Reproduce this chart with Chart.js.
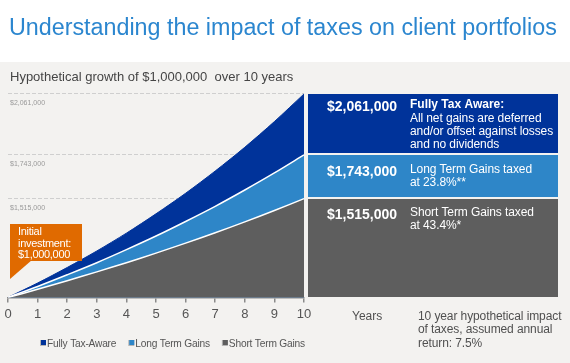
<!DOCTYPE html>
<html lang="en">
<head>
<meta charset="UTF-8">
<title>Understanding the impact of taxes on client portfolios</title>
<script src="https://cdn.jsdelivr.net/npm/chart.js"></script>
<style>
  html, body { margin: 0; padding: 0; background: #f3f2f0; }
  .wrap { width: 570px; height: 363px; position: relative; }
</style>
</head>
<body>
<div class="wrap"><canvas id="taxChart"></canvas></div>
<script>
  // values (growth of $1,000,000 over 10 years)
  const years = ['0', '1', '2', '3', '4', '5', '6', '7', '8', '9', '10'];
  const fullyTaxAware = [1000000, 1075000, 1156000, 1242000, 1335000, 1436000, 1543000, 1659000, 1783000, 1917000, 2061000];
  const longTermGains = [1000000, 1057000, 1118000, 1181000, 1249000, 1320000, 1396000, 1475000, 1560000, 1649000, 1743000];
  const shortTermGains = [1000000, 1042000, 1087000, 1133000, 1181000, 1231000, 1283000, 1337000, 1394000, 1453000, 1515000];
  const gridValues = [2061000, 1743000, 1515000];
  const startValue = 1000000;

  const BLUE = '#00339a', LIGHT = '#2e86c8', GREY = '#5e5e5e', ORANGE = '#e06a00';
  const FONT = '"Liberation Sans", Arial, sans-serif';

  const panelRows = [
    { value: '$2,061,000', color: BLUE, bold: 'Fully Tax Aware:', lines: ['All net gains are deferred', 'and/or offset against losses', 'and no dividends'], vOff: 16.5, tOff: 14 },
    { value: '$1,743,000', color: LIGHT, bold: null, lines: ['Long Term Gains taxed', 'at 23.8%**'], vOff: 20.5, tOff: 18.3 },
    { value: '$1,515,000', color: GREY, bold: null, lines: ['Short Term Gains taxed', 'at 43.4%*'], vOff: 20, tOff: 17.3 }
  ];

  function txt(ctx, s, x, y, font, color, spacing) {
    ctx.font = font;
    ctx.fillStyle = color;
    ctx.textAlign = 'left';
    ctx.textBaseline = 'alphabetic';
    ctx.letterSpacing = spacing || '0px';
    ctx.fillText(s, x, y);
    const w = ctx.measureText(s).width;
    ctx.letterSpacing = '0px';
    return w;
  }

  const decor = {
    id: 'decor',
    beforeDraw(chart) {
      const ctx = chart.ctx;
      ctx.save();
      ctx.fillStyle = '#f3f2f0';
      ctx.fillRect(0, 0, chart.width, chart.height);
      ctx.fillStyle = '#ffffff';
      ctx.fillRect(0, 0, chart.width, 62);
      txt(ctx, 'Understanding the impact of taxes on client portfolios', 9, 35, '23.3px ' + FONT, '#2b86cf');
      txt(ctx, 'Hypothetical growth of $1,000,000  over 10 years', 10, 81, '13px ' + FONT, '#454545');
      ctx.restore();
    },
    afterDraw(chart) {
      const ctx = chart.ctx;
      const y = chart.scales.y;
      const area = chart.chartArea;
      const edges = gridValues.concat([startValue]);
      const left = area.right + 4, right = 558;
      ctx.save();
      panelRows.forEach((row, i) => {
        const top = Math.round(y.getPixelForValue(edges[i]));
        const bottom = Math.round(y.getPixelForValue(edges[i + 1])) - (i < 2 ? 2 : 0);
        ctx.fillStyle = row.color;
        ctx.fillRect(left, top, right - left, bottom - top);
        txt(ctx, row.value, 327, top + row.vOff, 'bold 14px ' + FONT, '#ffffff');
        let ly = top + row.tOff;
        if (row.bold) {
          txt(ctx, row.bold, 410, ly, 'bold 12px ' + FONT, '#ffffff');
          ly += 14;
        }
        row.lines.forEach(l => {
          txt(ctx, l, 410, ly, '12px ' + FONT, '#ffffff', '-0.1px');
          ly += 13;
        });
      });

      // callout for the initial investment
      ctx.fillStyle = ORANGE;
      ctx.fillRect(10, 224, 72, 37);
      ctx.beginPath();
      ctx.moveTo(10, 260);
      ctx.lineTo(32, 260);
      ctx.lineTo(10, 279);
      ctx.closePath();
      ctx.fill();
      const cf = '11px ' + FONT;
      txt(ctx, 'Initial', 18, 235, cf, '#ffffff', '-0.3px');
      txt(ctx, 'investment:', 18, 246.5, cf, '#ffffff', '-0.3px');
      txt(ctx, '$1,000,000', 18, 258, cf, '#ffffff', '-0.3px');

      const nf = '12px ' + FONT;
      txt(ctx, 'Years', 352, 320, nf, '#505050');
      txt(ctx, '10 year hypothetical impact', 418, 320, nf, '#505050', '-0.1px');
      txt(ctx, 'of taxes, assumed annual', 418, 333.3, nf, '#505050', '-0.1px');
      txt(ctx, 'return: 7.5%', 418, 346.6, nf, '#505050', '-0.1px');

      // legend, in the order of the reference
      let lx = 40;
      chart.data.datasets.slice().reverse().forEach(ds => {
        ctx.fillStyle = '#b5b5b5';
        ctx.fillRect(lx, 340, 6, 6);
        ctx.fillStyle = ds.backgroundColor;
        ctx.fillRect(lx + 1, 340, 5, 5);
        const w = txt(ctx, ds.label, lx + 7, 347, '10.2px ' + FONT, '#555555', '-0.2px');
        lx += 7 + w + 12;
      });
      ctx.restore();
    }
  };

  const data = {
    labels: years,
    datasets: [
      { label: 'Short Term Gains', data: shortTermGains, backgroundColor: GREY, borderColor: '#ffffff', borderWidth: 1.5, fill: 'start', pointRadius: 0, tension: 0.3 },
      { label: 'Long Term Gains', data: longTermGains, backgroundColor: LIGHT, borderColor: '#ffffff', borderWidth: 1.5, fill: 'start', pointRadius: 0, tension: 0.3 },
      { label: 'Fully Tax-Aware', data: fullyTaxAware, backgroundColor: BLUE, borderColor: BLUE, borderWidth: 1, fill: 'start', pointRadius: 0, tension: 0.3 }
    ]
  };

  const config = {
    type: 'line',
    data: data,
    plugins: [decor],
    options: {
      responsive: true,
      maintainAspectRatio: false,
      animation: false,
      layout: { padding: { top: 88, left: 8, right: 266, bottom: 37 } },
      scales: {
        x: {
          grid: { drawOnChartArea: false, tickLength: 5, color: '#8a8a8a', lineWidth: 1.5 },
          border: { color: '#8a8a8a', width: 1.5 },
          ticks: { color: '#555', font: { size: 13, family: FONT }, padding: 4, maxRotation: 0, autoSkip: false }
        },
        y: {
          min: startValue,
          max: 2092000,
          afterBuildTicks: s => { s.ticks = gridValues.map(v => ({ value: v })); },
          afterFit: s => { s.width = 0; },
          grid: { color: '#cfcfcf', drawTicks: false },
          border: { display: false, dash: [4, 2] },
          ticks: {
            mirror: true, padding: 2, labelOffset: 9, color: '#999',
            font: { size: 7, family: FONT },
            callback: v => '$' + Number(v).toLocaleString('en-US')
          }
        }
      },
      plugins: {
        legend: { display: false },
        tooltip: { enabled: false }
      }
    }
  };

  new Chart(document.getElementById('taxChart'), config);
</script>
</body>
</html>
